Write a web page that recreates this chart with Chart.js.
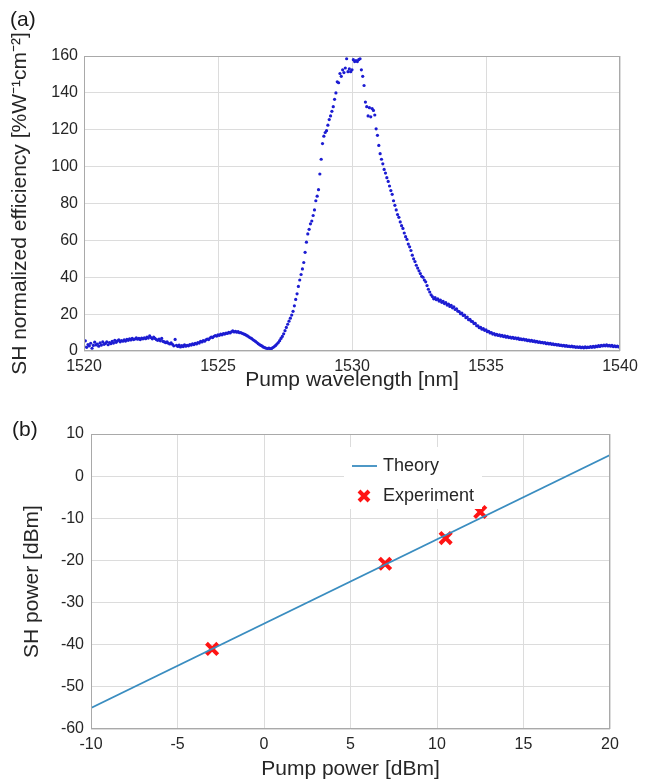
<!DOCTYPE html>
<html>
<head>
<meta charset="utf-8">
<script src="https://cdn.jsdelivr.net/npm/chart.js@4.4.1/dist/chart.umd.min.js"></script>
<style>
  body { margin: 0; background: #fff; width: 651px; height: 783px; position: relative; overflow: hidden;
         font-family: "Liberation Sans", Arial, sans-serif; }
  .wrap { position: absolute; left: 0; width: 651px; }
  #wrapA { top: 0; height: 392px; }
  #wrapB { top: 392px; height: 391px; }
  .tag { position: absolute; font-size: 21px; color: #1a1a1a; line-height: 1; }
</style>
</head>
<body>
<div class="wrap" id="wrapA"><canvas id="chartA"></canvas></div>
<div class="wrap" id="wrapB"><canvas id="chartB"></canvas></div>
<div class="tag" style="left:10px; top:8px;">(a)</div>
<div class="tag" style="left:12px; top:418px;">(b)</div>
<script>
// ===== (a) SH efficiency vs pump wavelength =====
const wavelengthNm = [
  1520.00, 1520.05, 1520.10, 1520.15, 1520.20, 1520.25, 1520.30, 1520.35, 1520.40, 1520.45,
  1520.50, 1520.55, 1520.60, 1520.65, 1520.70, 1520.75, 1520.80, 1520.85, 1520.90, 1520.95,
  1521.00, 1521.05, 1521.10, 1521.15, 1521.20, 1521.25, 1521.30, 1521.35, 1521.40, 1521.45,
  1521.50, 1521.55, 1521.60, 1521.65, 1521.70, 1521.75, 1521.80, 1521.85, 1521.90, 1521.95,
  1522.00, 1522.05, 1522.10, 1522.15, 1522.20, 1522.25, 1522.30, 1522.35, 1522.40, 1522.45,
  1522.50, 1522.55, 1522.60, 1522.65, 1522.70, 1522.75, 1522.80, 1522.85, 1522.90, 1522.95,
  1523.00, 1523.05, 1523.10, 1523.15, 1523.20, 1523.25, 1523.30, 1523.35, 1523.40, 1523.45,
  1523.50, 1523.55, 1523.60, 1523.65, 1523.70, 1523.75, 1523.80, 1523.85, 1523.90, 1523.95,
  1524.00, 1524.05, 1524.10, 1524.15, 1524.20, 1524.25, 1524.30, 1524.35, 1524.40, 1524.45,
  1524.50, 1524.55, 1524.60, 1524.65, 1524.70, 1524.75, 1524.80, 1524.85, 1524.90, 1524.95,
  1525.00, 1525.05, 1525.10, 1525.15, 1525.20, 1525.25, 1525.30, 1525.35, 1525.40, 1525.45,
  1525.50, 1525.55, 1525.60, 1525.65, 1525.70, 1525.75, 1525.80, 1525.85, 1525.90, 1525.95,
  1526.00, 1526.05, 1526.10, 1526.15, 1526.20, 1526.25, 1526.30, 1526.35, 1526.40, 1526.45,
  1526.50, 1526.55, 1526.60, 1526.65, 1526.70, 1526.75, 1526.80, 1526.85, 1526.90, 1526.95,
  1527.00, 1527.05, 1527.10, 1527.15, 1527.20, 1527.25, 1527.30, 1527.35, 1527.40, 1527.45,
  1527.50, 1527.55, 1527.60, 1527.65, 1527.70, 1527.75, 1527.80, 1527.85, 1527.90, 1527.95,
  1528.00, 1528.05, 1528.10, 1528.15, 1528.20, 1528.25, 1528.30, 1528.35, 1528.40, 1528.45,
  1528.50, 1528.55, 1528.60, 1528.65, 1528.70, 1528.75, 1528.80, 1528.85, 1528.90, 1528.95,
  1529.00, 1529.05, 1529.10, 1529.15, 1529.20, 1529.25, 1529.30, 1529.35, 1529.40, 1529.45,
  1529.50, 1529.55, 1529.60, 1529.65, 1529.70, 1529.75, 1529.80, 1529.85, 1529.90, 1529.95,
  1530.00, 1530.05, 1530.10, 1530.15, 1530.20, 1530.25, 1530.30, 1530.35, 1530.40, 1530.45,
  1530.50, 1530.55, 1530.60, 1530.65, 1530.70, 1530.75, 1530.80, 1530.85, 1530.90, 1530.95,
  1531.00, 1531.05, 1531.10, 1531.15, 1531.20, 1531.25, 1531.30, 1531.35, 1531.40, 1531.45,
  1531.50, 1531.55, 1531.60, 1531.65, 1531.70, 1531.75, 1531.80, 1531.85, 1531.90, 1531.95,
  1532.00, 1532.05, 1532.10, 1532.15, 1532.20, 1532.25, 1532.30, 1532.35, 1532.40, 1532.45,
  1532.50, 1532.55, 1532.60, 1532.65, 1532.70, 1532.75, 1532.80, 1532.85, 1532.90, 1532.95,
  1533.00, 1533.05, 1533.10, 1533.15, 1533.20, 1533.25, 1533.30, 1533.35, 1533.40, 1533.45,
  1533.50, 1533.55, 1533.60, 1533.65, 1533.70, 1533.75, 1533.80, 1533.85, 1533.90, 1533.95,
  1534.00, 1534.05, 1534.10, 1534.15, 1534.20, 1534.25, 1534.30, 1534.35, 1534.40, 1534.45,
  1534.50, 1534.55, 1534.60, 1534.65, 1534.70, 1534.75, 1534.80, 1534.85, 1534.90, 1534.95,
  1535.00, 1535.05, 1535.10, 1535.15, 1535.20, 1535.25, 1535.30, 1535.35, 1535.40, 1535.45,
  1535.50, 1535.55, 1535.60, 1535.65, 1535.70, 1535.75, 1535.80, 1535.85, 1535.90, 1535.95,
  1536.00, 1536.05, 1536.10, 1536.15, 1536.20, 1536.25, 1536.30, 1536.35, 1536.40, 1536.45,
  1536.50, 1536.55, 1536.60, 1536.65, 1536.70, 1536.75, 1536.80, 1536.85, 1536.90, 1536.95,
  1537.00, 1537.05, 1537.10, 1537.15, 1537.20, 1537.25, 1537.30, 1537.35, 1537.40, 1537.45,
  1537.50, 1537.55, 1537.60, 1537.65, 1537.70, 1537.75, 1537.80, 1537.85, 1537.90, 1537.95,
  1538.00, 1538.05, 1538.10, 1538.15, 1538.20, 1538.25, 1538.30, 1538.35, 1538.40, 1538.45,
  1538.50, 1538.55, 1538.60, 1538.65, 1538.70, 1538.75, 1538.80, 1538.85, 1538.90, 1538.95,
  1539.00, 1539.05, 1539.10, 1539.15, 1539.20, 1539.25, 1539.30, 1539.35, 1539.40, 1539.45,
  1539.50, 1539.55, 1539.60, 1539.65, 1539.70, 1539.75, 1539.80, 1539.85, 1539.90, 1539.95,
  1540.00
];
const efficiency = [
  2.5, 5.5, 2.0, 3.5, 2.8, 4.2, 1.5, 3.0, 4.8, 3.3,
  3.8, 2.6, 4.4, 3.2, 4.9, 3.6, 4.1, 5.0, 3.4, 4.6,
  4.0, 5.2, 4.3, 5.8, 4.7, 5.5, 6.1, 5.0, 5.7, 5.3,
  6.0, 5.4, 6.3, 5.8, 6.6, 6.0, 6.9, 6.2, 6.5, 7.1,
  6.4, 6.8, 6.2, 7.0, 6.6, 7.2, 6.7, 7.6, 7.0, 8.2,
  7.3, 6.6, 7.5, 6.8, 6.2, 5.8, 6.4, 5.5, 6.8, 5.2,
  4.9, 4.5, 5.0, 4.2, 3.8, 4.4, 3.6, 2.8, 6.3, 3.1,
  2.5, 3.2, 2.2, 2.9, 2.4, 3.4, 2.6, 3.0, 2.8, 3.5,
  3.2, 3.9, 3.5, 4.2, 3.8, 4.6, 4.3, 5.2, 4.9, 5.6,
  5.3, 6.1, 6.5, 6.2, 7.0, 7.6, 7.3, 8.0, 8.4, 8.1,
  8.7, 8.5, 9.1, 8.8, 9.4, 9.2, 9.7, 9.5, 10.1, 9.8,
  10.4, 10.9, 10.3, 10.7, 10.2, 10.5, 9.9, 10.0, 9.6, 9.3,
  9.0, 8.6, 8.2, 7.7, 7.2, 6.8, 6.2, 5.7, 5.2, 4.6,
  4.0, 3.5, 3.0, 2.6, 2.1, 1.8, 1.5, 1.3, 1.6, 1.2,
  1.4, 1.9, 2.4, 3.0, 3.8, 4.6, 5.6, 6.8, 7.9, 9.3,
  11.0, 12.8, 14.5, 16.2, 17.8, 19.5, 21.5, 24.5, 28.0, 31.0,
  35.0, 38.5, 41.5, 44.5, 48.0, 53.5, 59.0, 63.5, 66.0, 69.0,
  70.5, 73.5, 76.5, 81.5, 84.0, 87.5, 96.0, 104.0, 112.5, 116.5,
  118.5, 119.5, 122.5, 125.5, 127.5, 130.0, 132.5, 136.5, 140.0, 146.0,
  145.5, 150.5, 149.0, 152.5, 151.0, 153.5, 158.5, 151.5, 153.0, 151.5,
  152.5, 158.0, 157.0, 157.5, 157.0, 158.0, 158.5, 152.5, 149.0, 144.0,
  135.0, 132.5, 127.5, 132.0, 127.0, 131.5, 130.5, 128.0, 120.5, 117.0,
  111.5, 107.0, 104.0, 101.5, 98.5, 96.5, 94.0, 92.0, 89.5, 87.0,
  85.0, 81.5, 79.0, 76.5, 74.0, 72.5, 70.0, 68.0, 66.5, 64.0,
  62.0, 60.5, 58.0, 56.5, 54.5, 52.0, 50.0, 48.5, 46.5, 45.0,
  43.5, 42.0, 40.5, 40.0, 38.5, 37.5, 35.5, 33.5, 32.0, 30.5,
  29.5, 28.3, 28.9, 27.8, 28.3, 27.1, 27.6, 26.4, 26.9, 25.7,
  26.2, 24.9, 25.4, 24.2, 24.8, 23.4, 23.9, 22.5, 22.9, 21.6,
  21.4, 20.2, 20.6, 19.3, 19.5, 18.1, 18.4, 17.0, 17.2, 16.1,
  16.0, 14.9, 15.0, 13.7, 13.6, 12.6, 12.8, 11.8, 12.1, 11.2,
  11.5, 10.5, 10.7, 9.8, 10.0, 9.2, 9.5, 8.7, 9.0, 8.4,
  8.8, 8.1, 8.5, 7.8, 8.2, 7.5, 7.9, 7.3, 7.6, 7.0,
  7.4, 6.8, 7.2, 6.6, 7.0, 6.3, 6.6, 6.1, 6.5, 5.9,
  6.2, 5.6, 5.9, 5.4, 5.8, 5.2, 5.5, 4.9, 5.2, 4.7,
  5.0, 4.5, 4.7, 4.3, 4.6, 4.0, 4.3, 3.8, 4.1, 3.6,
  3.9, 3.4, 3.6, 3.2, 3.5, 3.0, 3.2, 2.8, 3.1, 2.6,
  2.9, 2.5, 2.7, 2.3, 2.6, 2.2, 2.4, 2.0, 2.3, 1.9,
  2.2, 1.8, 2.1, 1.7, 2.2, 1.8, 2.1, 1.9, 2.4, 2.0,
  2.5, 2.1, 2.7, 2.3, 2.9, 2.5, 3.1, 2.7, 3.2, 2.8,
  3.3, 2.7, 3.1, 2.6, 3.0, 2.4, 2.8, 2.3, 2.7, 2.2,
  2.6
];
const wlTicks = [1520, 1525, 1530, 1535, 1540];
const effTicks = [0, 20, 40, 60, 80, 100, 120, 140, 160];

// ===== (b) SH power vs pump power =====
const theoryPump = [-10, 20];
const theorySH = [-55, 5];
const expPump = [-3, 7, 10.5, 12.5];
const expSH = [-41, -20.8, -14.7, -8.5];
const pumpTicks = [-10, -5, 0, 5, 10, 15, 20];
const shTicks = [-60, -50, -40, -30, -20, -10, 0, 10];

const FONT = "'Liberation Sans', Arial, sans-serif";
const TXT = "#262626";
const GRID = "#dcdcdc";
const BOX = "#a9a9a9";

const toXY = (xs, ys) => xs.map((x, i) => ({ x, y: ys[i] }));

// draws the full MATLAB-like box around the plot area
const frameBox = {
  id: "frameBox",
  afterDatasetsDraw(chart) {
    const { ctx, chartArea: a } = chart;
    ctx.save();
    ctx.strokeStyle = BOX;
    ctx.lineWidth = 1;
    ctx.strokeRect(a.left + 0.5, a.top + 0.5, a.right - a.left - 1, a.bottom - a.top - 1);
    ctx.restore();
  },
};

// legend drawn inside the plot of (b)
const insideLegend = {
  id: "insideLegend",
  afterDraw(chart) {
    const { ctx, chartArea: a } = chart;
    const ds = chart.data.datasets;
    const bx = a.left + 253, by = a.top + 13;
    ctx.save();
    ctx.fillStyle = "#fff";
    ctx.fillRect(bx, by, 138, 62);
    ctx.font = "18px " + FONT;
    ctx.fillStyle = TXT;
    ctx.textBaseline = "middle";
    // Theory
    ctx.strokeStyle = ds[0].borderColor;
    ctx.lineWidth = ds[0].borderWidth;
    ctx.beginPath();
    ctx.moveTo(bx + 8, by + 19);
    ctx.lineTo(bx + 33, by + 19);
    ctx.stroke();
    ctx.fillText(ds[0].label, bx + 39, by + 19);
    // Experiment
    const mx = bx + 20, my = by + 49, r = 5;
    ctx.strokeStyle = ds[1].borderColor;
    ctx.lineWidth = ds[1].borderWidth;
    ctx.beginPath();
    ctx.moveTo(mx - r, my - r); ctx.lineTo(mx + r, my + r);
    ctx.moveTo(mx - r, my + r); ctx.lineTo(mx + r, my - r);
    ctx.stroke();
    ctx.fillStyle = TXT;
    ctx.fillText(ds[1].label, bx + 39, my);
    ctx.restore();
  },
};

function axis(opts) {
  return {
    type: "linear",
    min: opts.ticks[0],
    max: opts.ticks[opts.ticks.length - 1],
    afterBuildTicks: (s) => { s.ticks = opts.ticks.map((v) => ({ value: v })); },
    afterFit: (s) => {
      if (opts.width) s.width = opts.width;
      if (opts.height) s.height = opts.height;
    },
    grid: { color: GRID, drawTicks: false, lineWidth: 1 },
    border: { display: false },
    ticks: {
      color: TXT,
      padding: opts.tickPad,
      font: { family: FONT, size: 16 },
      callback: (v) => String(v),
      maxRotation: 0,
      autoSkip: false,
    },
    title: {
      display: true,
      text: opts.title,
      color: TXT,
      font: { family: FONT, size: 21, lineHeight: 1 },
      padding: opts.titlePad,
    },
  };
}

Chart.defaults.font.family = FONT;

new Chart(document.getElementById("chartA"), {
  type: "scatter",
  data: {
    datasets: [
      {
        label: "SH efficiency",
        data: toXY(wavelengthNm, efficiency),
        pointRadius: 1.6,
        pointBorderWidth: 0,
        backgroundColor: "#1c1cd2",
        borderColor: "#1c1cd2",
      },
    ],
  },
  options: {
    responsive: true,
    maintainAspectRatio: false,
    animation: false,
    layout: { padding: { top: 56, right: 31, left: 0, bottom: 0 } },
    plugins: { legend: { display: false }, tooltip: { enabled: false } },
    scales: {
      x: axis({ ticks: wlTicks, height: 41, tickPad: 6, title: "Pump wavelength [nm]", titlePad: { top: 0, bottom: 1 } }),
      y: axis({ ticks: effTicks, width: 84, tickPad: 6, title: "SH normalized efficiency [%W\u207B\u00B9cm\u207B\u00B2]", titlePad: { top: 10, bottom: 0 } }),
    },
  },
  plugins: [frameBox],
});

new Chart(document.getElementById("chartB"), {
  type: "scatter",
  data: {
    datasets: [
      {
        label: "Theory",
        data: toXY(theoryPump, theorySH),
        showLine: true,
        pointRadius: 0,
        borderColor: "#3a8dc0",
        borderWidth: 1.8,
      },
      {
        label: "Experiment",
        data: toXY(expPump, expSH),
        pointStyle: "crossRot",
        pointRadius: 8,
        borderColor: "#ff1414",
        borderWidth: 4,
      },
    ],
  },
  options: {
    responsive: true,
    maintainAspectRatio: false,
    animation: false,
    layout: { padding: { top: 42, right: 41, left: 0, bottom: 0 } },
    plugins: { legend: { display: false }, tooltip: { enabled: false } },
    scales: {
      x: axis({ ticks: pumpTicks, height: 54, tickPad: 6, title: "Pump power [dBm]", titlePad: { top: 0, bottom: 3 } }),
      y: axis({ ticks: shTicks, width: 91, tickPad: 7, title: "SH power [dBm]", titlePad: { top: 22, bottom: 0 } }),
    },
  },
  plugins: [frameBox, insideLegend],
});
</script>
</body>
</html>
